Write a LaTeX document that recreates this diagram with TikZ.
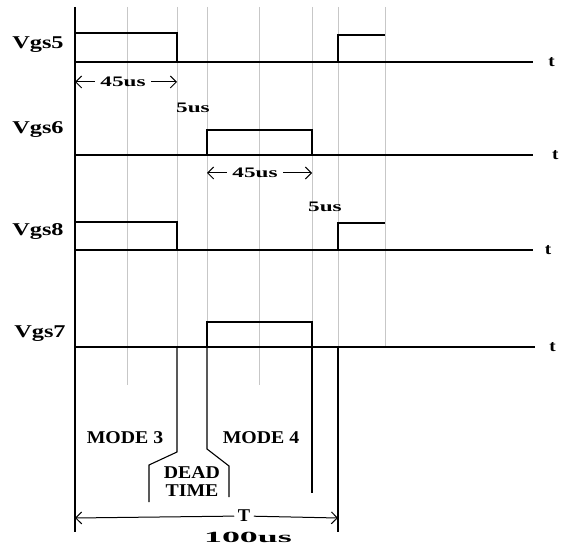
\documentclass[tikz,border=0pt]{standalone}
\usepackage{fontspec}
\setmainfont{Liberation Serif}
\usetikzlibrary{arrows.meta}
\tikzset{
  wave/.style={black, line width=1.1pt},
  guide/.style={black!22, line width=1pt},
  dim/.style={black, line width=1pt, ->},
  sig/.style={font=\fontsize{18}{19}\selectfont\bfseries, xscale=1.35},
  dur/.style={font=\fontsize{14.5}{16}\selectfont\bfseries, xscale=1.6},
  modetxt/.style={font=\fontsize{18}{18}\selectfont\bfseries, xscale=1.1, align=center},
  tlbl/.style={font=\fontsize{16}{17}\selectfont\bfseries, xscale=1.2},
}
\begin{document}
\begin{tikzpicture}[x=1pt, y=-1pt, >={Straight Barb[length=6pt,width=12pt]}]
    \useasboundingbox (0,0) rectangle (563,548);
    % guide lines
    \foreach \x in {127,259} \draw[guide] (\x,7) -- (\x,385);
    \foreach \x in {177,207,338,385} \draw[guide] (\x,7) -- (\x,347);
    \draw[guide] (312,7) -- (312,322);
    % time axis
    \draw[wave] (75,7) -- (75,532);
    % Vgs5
    \node[sig] (vgs5) at (38,45) {Vgs5};
    \draw[wave] (75,62) -- (533,62) node[tlbl, right=9pt] (t5) {t};
    \draw[wave] (75,33) -- (177,33) -- (177,62);
    \draw[wave] (338,62) -- (338,35) -- (385,35);
    \node[dur] (on5) at (123,82) {45us};
    \coordinate (on5l) at (75,82);
    \coordinate (on5r) at (177,82);
    \draw[dim] (on5) -- (on5l);
    \draw[dim] (on5) -- (on5r);
    \node[dur] (dt1) at (193,108) {5us};
    % Vgs6
    \node[sig] (vgs6) at (38,130) {Vgs6};
    \draw[wave] (75,155) -- (533,155) node[tlbl, right=12pt] (t6) {t};
    \draw[wave] (207,155) -- (207,130) -- (312,130) -- (312,155);
    \node[dur] (on6) at (255,173) {45us};
    \coordinate (on6l) at (207,173);
    \coordinate (on6r) at (312,173);
    \draw[dim] (on6) -- (on6l);
    \draw[dim] (on6) -- (on6r);
    \node[dur] (dt2) at (325,207) {5us};
    % Vgs8
    \node[sig] (vgs8) at (38,232) {Vgs8};
    \draw[wave] (75,250) -- (533,250) node[tlbl, right=6pt] (t8) {t};
    \draw[wave] (75,222) -- (177,222) -- (177,250);
    \draw[wave] (338,250) -- (338,223) -- (385,223);
    % Vgs7
    \node[sig] (vgs7) at (40,334) {Vgs7};
    \draw[wave] (75,347) -- (535,347) node[tlbl, right=8pt] (t7) {t};
    \draw[wave] (207,347) -- (207,322) -- (312,322) -- (312,347);
    % mode boundaries
    \draw[wave] (177,347) -- (177,452) -- (149,465) -- (149,502);
    \draw[wave] (207,347) -- (207,449) -- (229,466) -- (229,497);
    \draw[wave] (312,347) -- (312,493);
    \draw[wave] (338,347) -- (338,532);
    \node[modetxt] (m3) at (125,438) {MODE 3};
    \node[modetxt] (m4) at (261,438) {MODE 4};
    \node[modetxt] (dead) at (192,482) {DEAD\\TIME};
    % period
    \node[modetxt, xscale=0.93] (per) at (244,516) {T};
    \coordinate (perl) at (75,518);
    \coordinate (perr) at (338,518);
    \draw[dim] (per) -- (perl);
    \draw[dim] (per) -- (perr);
    \node[dur, font=\fontsize{15.5}{16}\selectfont\bfseries, xscale=1.45] (per2) at (248,537) {100us};
\end{tikzpicture}
\end{document}
